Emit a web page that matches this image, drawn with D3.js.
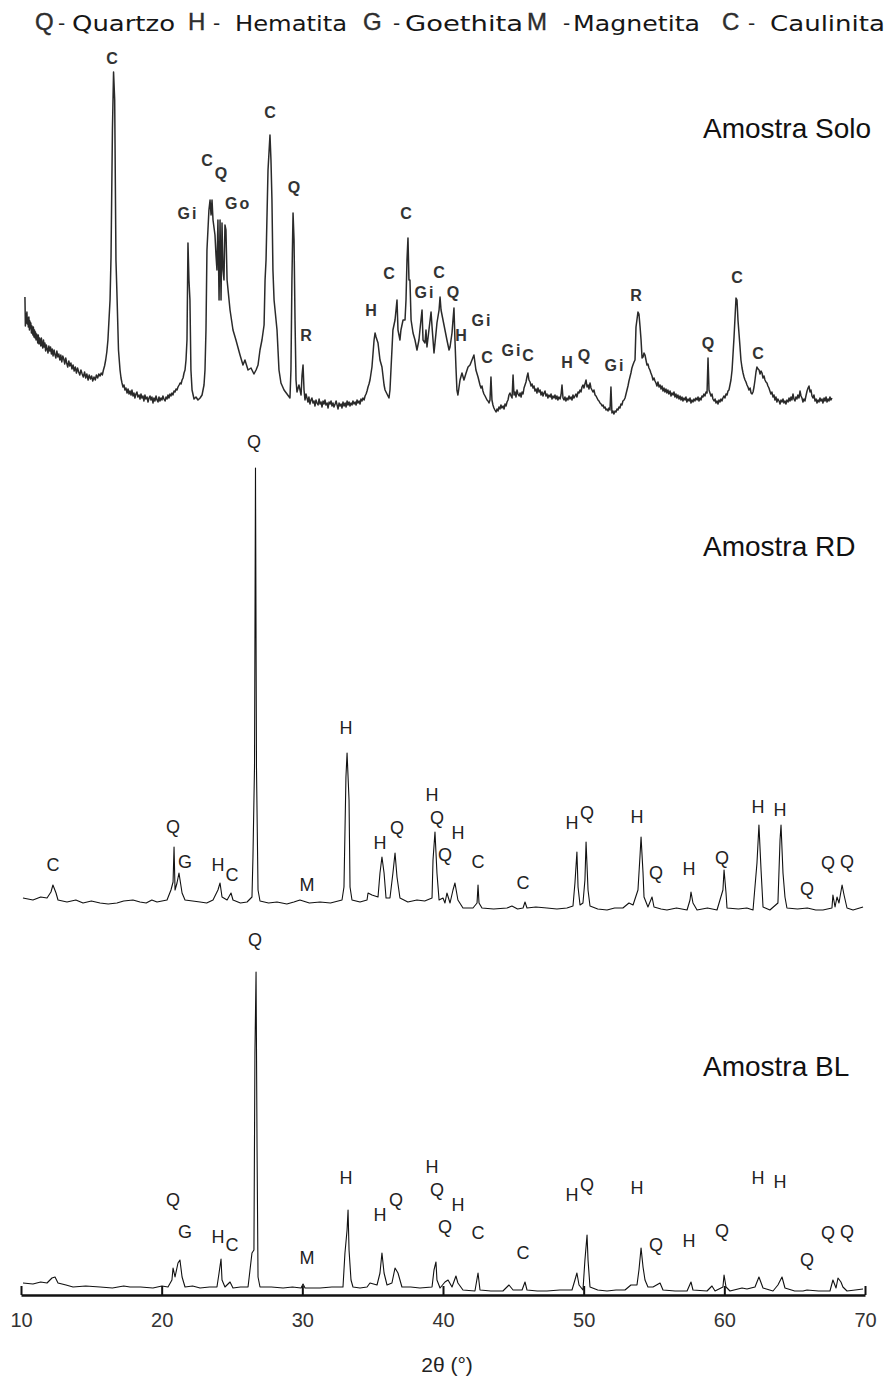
<!DOCTYPE html>
<html>
<head>
<meta charset="utf-8">
<script src="https://cdn.jsdelivr.net/npm/d3@7"></script>
<style>
  html, body { margin: 0; padding: 0; background: #fff; }
  svg { display: block; }
</style>
</head>
<body>
<svg id="chart" width="886" height="1376"></svg>
<script>
// ---- data -------------------------------------------------------------
const twoThetaTicks = [10, 20, 30, 40, 50, 60, 70];
const sampleNames = ["Amostra Solo", "Amostra RD", "Amostra BL"];
const phaseCodes = ["Q", "H", "G", "M", "C"];
const phaseNames = ["Quartzo", "Hematita", "Goethita", "Magnetita", "Caulinita"];

// diffractograms: [2θ (°), intensity (a.u.)]
const soloPattern = [
  [10.28,369],[10.31,282],[10.35,318],[10.38,291],[10.42,324],[10.45,288],[10.49,306],[10.52,279],
  [10.56,309],[10.60,270],[10.63,297],[10.67,276],[10.70,291],[10.74,261],[10.78,282],[10.81,264],
  [10.85,255],[10.88,279],[10.92,249],[10.96,270],[11.00,246],[11.03,264],[11.07,240],[11.11,258],
  [11.15,252],[11.19,231],[11.23,255],[11.28,228],[11.32,246],[11.36,237],[11.41,222],[11.45,246],
  [11.50,228],[11.55,216],[11.60,240],[11.65,219],[11.70,231],[11.75,207],[11.80,225],[11.86,213],
  [11.92,201],[11.98,222],[12.04,207],[12.10,219],[12.16,198],[12.22,213],[12.28,192],[12.35,210],
  [12.42,195],[12.48,186],[12.55,207],[12.62,189],[12.69,198],[12.76,180],[12.83,195],[12.90,174],
  [12.97,192],[13.04,183],[13.11,168],[13.18,186],[13.25,171],[13.32,159],[13.40,177],[13.47,162],
  [13.55,171],[13.62,153],[13.70,165],[13.78,147],[13.86,159],[13.94,141],[14.02,156],[14.10,144],
  [14.18,135],[14.26,150],[14.35,138],[14.43,129],[14.52,144],[14.60,126],[14.68,138],[14.77,120],
  [14.85,135],[14.94,123],[15.02,132],[15.10,117],[15.19,129],[15.28,120],[15.36,135],[15.45,126],
  [15.53,138],[15.62,132],[15.70,141],[15.78,135],[15.86,150],[15.94,162],[16.02,180],[16.10,204],
  [16.18,240],[16.33,360],[16.40,489],[16.50,870],[16.58,1044],[16.66,960],[16.75,480],[16.82,380],
  [16.93,210],[17.04,150],[17.11,126],[17.18,111],[17.25,99],[17.32,105],[17.39,90],[17.46,96],
  [17.54,81],[17.61,93],[17.68,78],[17.75,87],[17.82,75],[17.89,90],[17.96,72],[18.03,81],
  [18.10,66],[18.17,78],[18.24,84],[18.31,69],[18.39,75],[18.46,63],[18.53,78],[18.60,66],
  [18.67,72],[18.74,57],[18.81,75],[18.88,63],[18.96,69],[19.03,54],[19.10,66],[19.17,72],
  [19.24,60],[19.31,69],[19.38,51],[19.45,66],[19.52,57],[19.60,72],[19.67,60],[19.74,54],
  [19.81,69],[19.88,57],[19.95,66],[20.02,60],[20.09,72],[20.16,63],[20.24,57],[20.31,69],
  [20.38,63],[20.45,75],[20.52,66],[20.59,78],[20.66,72],[20.73,81],[20.80,75],[20.88,87],
  [20.95,84],[21.02,93],[21.09,90],[21.16,99],[21.24,105],[21.31,111],[21.38,108],[21.45,120],
  [21.52,126],[21.59,141],[21.66,150],[21.73,180],[21.80,240],[21.87,531],[21.94,420],[22.01,360],
  [22.08,150],[22.16,90],[22.30,63],[22.44,69],[22.58,60],[22.73,66],[22.87,75],[23.01,105],
  [23.08,150],[23.15,270],[23.22,510],[23.36,630],[23.44,660],[23.51,615],[23.58,660],[23.65,600],
  [23.79,555],[23.86,495],[23.93,450],[24.00,600],[24.08,360],[24.15,600],[24.22,360],[24.29,591],
  [24.36,450],[24.43,420],[24.50,585],[24.57,570],[24.65,420],[24.72,390],[24.86,330],[25.07,270],
  [25.28,240],[25.57,195],[25.78,165],[25.92,180],[26.14,150],[26.35,156],[26.56,138],[26.71,150],
  [26.85,165],[26.99,210],[27.13,240],[27.28,285],[27.35,420],[27.42,480],[27.56,750],[27.70,855],
  [27.77,780],[27.84,660],[27.91,450],[27.99,360],[28.13,300],[28.20,270],[28.34,150],[28.48,111],
  [28.70,90],[28.91,78],[29.12,66],[29.19,150],[29.26,420],[29.34,621],[29.41,540],[29.48,300],
  [29.55,120],[29.62,84],[29.76,105],[29.91,75],[29.98,135],[30.05,165],[30.12,90],[30.19,60],
  [30.26,78],[30.33,66],[30.40,54],[30.47,69],[30.54,48],[30.61,60],[30.68,66],[30.76,51],
  [30.83,57],[30.90,42],[30.97,60],[31.04,51],[31.12,45],[31.19,63],[31.26,48],[31.33,54],
  [31.40,39],[31.47,57],[31.54,48],[31.61,60],[31.68,45],[31.76,51],[31.83,36],[31.90,54],
  [31.97,48],[32.04,57],[32.11,42],[32.18,51],[32.25,39],[32.33,48],[32.40,57],[32.47,45],
  [32.54,33],[32.61,51],[32.68,42],[32.75,48],[32.82,36],[32.89,54],[32.97,42],[33.04,51],
  [33.11,39],[33.18,57],[33.25,45],[33.32,54],[33.39,42],[33.46,51],[33.53,45],[33.60,57],
  [33.68,48],[33.75,54],[33.82,45],[33.89,60],[33.96,51],[34.03,57],[34.10,48],[34.17,63],
  [34.24,57],[34.31,66],[34.39,60],[34.46,72],[34.53,78],[34.60,87],[34.67,99],[34.74,108],
  [34.81,120],[34.95,159],[35.10,240],[35.17,261],[35.24,249],[35.38,231],[35.52,180],[35.66,159],
  [35.81,105],[35.88,90],[36.02,78],[36.16,66],[36.23,90],[36.30,150],[36.44,270],[36.59,300],
  [36.66,330],[36.73,360],[36.80,270],[36.94,240],[37.01,270],[37.16,300],[37.30,300],[37.37,360],
  [37.44,480],[37.51,546],[37.58,420],[37.65,420],[37.73,300],[37.87,261],[38.01,240],[38.15,210],
  [38.29,240],[38.36,270],[38.51,330],[38.58,240],[38.72,231],[38.79,270],[38.86,219],[39.00,270],
  [39.15,324],[39.22,280],[39.36,201],[39.50,260],[39.57,291],[39.72,330],[39.79,369],[39.86,330],
  [40.00,300],[40.14,270],[40.28,240],[40.43,210],[40.50,219],[40.57,240],[40.64,261],[40.71,300],
  [40.78,336],[40.85,240],[40.92,159],[40.99,90],[41.06,75],[41.21,120],[41.35,141],[41.49,120],
  [41.64,141],[41.78,159],[41.92,165],[42.06,180],[42.20,195],[42.34,150],[42.49,129],[42.63,105],
  [42.70,96],[42.77,102],[42.84,87],[42.91,78],[42.99,72],[43.06,66],[43.13,60],[43.20,57],
  [43.27,51],[43.34,60],[43.41,129],[43.48,60],[43.55,45],[43.62,36],[43.69,30],[43.77,24],
  [43.84,33],[43.91,27],[43.98,39],[44.05,33],[44.12,45],[44.19,36],[44.27,42],[44.34,33],
  [44.41,48],[44.48,42],[44.55,54],[44.62,60],[44.69,75],[44.76,81],[44.84,72],[44.91,66],
  [44.98,135],[45.05,75],[45.12,84],[45.19,69],[45.26,90],[45.33,78],[45.41,72],[45.48,81],
  [45.55,69],[45.62,84],[45.69,78],[45.76,96],[45.83,105],[45.90,114],[45.97,129],[46.04,141],
  [46.11,120],[46.19,114],[46.26,102],[46.33,108],[46.40,96],[46.47,102],[46.54,87],[46.61,93],
  [46.68,81],[46.75,96],[46.83,84],[46.90,90],[46.97,75],[47.04,84],[47.11,72],[47.18,81],
  [47.25,87],[47.32,72],[47.39,78],[47.46,66],[47.53,75],[47.61,69],[47.68,78],[47.75,63],
  [47.82,72],[47.89,66],[47.96,75],[48.03,63],[48.10,72],[48.17,60],[48.24,69],[48.32,63],
  [48.39,75],[48.46,105],[48.53,66],[48.60,60],[48.67,69],[48.74,57],[48.81,66],[48.88,60],
  [48.96,72],[49.03,63],[49.10,69],[49.17,60],[49.24,75],[49.31,66],[49.38,72],[49.45,78],
  [49.52,69],[49.60,84],[49.67,81],[49.74,90],[49.81,84],[49.88,99],[49.95,105],[50.02,96],
  [50.09,108],[50.17,120],[50.24,99],[50.31,105],[50.38,93],[50.45,111],[50.52,96],[50.59,90],
  [50.66,84],[50.73,90],[50.81,75],[50.88,72],[50.95,66],[51.02,60],[51.09,57],[51.16,51],
  [51.24,48],[51.31,42],[51.38,45],[51.45,36],[51.52,39],[51.59,30],[51.66,33],[51.73,27],
  [51.80,36],[51.87,30],[51.94,99],[52.01,21],[52.08,27],[52.15,18],[52.23,27],[52.30,24],
  [52.37,33],[52.44,30],[52.51,39],[52.58,36],[52.65,48],[52.72,45],[52.79,57],[52.87,60],
  [52.94,66],[53.01,78],[53.08,90],[53.15,102],[53.22,117],[53.29,129],[53.36,141],[53.43,156],
  [53.50,165],[53.58,174],[53.65,180],[53.72,279],[53.86,324],[53.93,318],[54.01,279],[54.08,240],
  [54.15,186],[54.22,189],[54.29,201],[54.36,195],[54.43,180],[54.50,165],[54.57,168],[54.64,156],
  [54.71,150],[54.78,141],[54.86,132],[54.93,120],[55.00,126],[55.07,117],[55.14,111],[55.21,102],
  [55.28,114],[55.36,99],[55.43,105],[55.50,93],[55.57,102],[55.64,87],[55.71,96],[55.78,84],
  [55.85,93],[55.92,81],[55.99,90],[56.06,78],[56.14,87],[56.21,72],[56.28,81],[56.35,75],
  [56.42,84],[56.49,69],[56.56,78],[56.63,66],[56.70,75],[56.78,63],[56.85,72],[56.92,60],
  [56.99,69],[57.06,57],[57.13,66],[57.20,60],[57.27,69],[57.34,54],[57.42,63],[57.49,57],
  [57.56,66],[57.63,51],[57.70,60],[57.77,54],[57.84,63],[57.91,57],[57.98,66],[58.06,60],
  [58.13,69],[58.20,57],[58.27,66],[58.34,60],[58.41,72],[58.48,69],[58.55,78],[58.62,72],
  [58.70,84],[58.77,81],[58.84,186],[58.91,90],[58.98,81],[59.05,72],[59.12,78],[59.19,63],
  [59.27,57],[59.34,63],[59.41,51],[59.48,57],[59.55,48],[59.62,60],[59.69,54],[59.76,63],
  [59.83,57],[59.90,66],[59.97,72],[60.04,66],[60.12,78],[60.19,75],[60.26,87],[60.33,90],
  [60.40,105],[60.47,120],[60.55,150],[60.69,249],[60.83,366],[60.90,360],[60.97,300],[61.04,261],
  [61.11,222],[61.18,180],[61.26,156],[61.33,141],[61.40,129],[61.47,120],[61.54,114],[61.61,105],
  [61.68,99],[61.75,90],[61.83,96],[61.90,81],[61.97,78],[62.04,84],[62.11,99],[62.18,120],
  [62.25,144],[62.32,159],[62.40,153],[62.47,150],[62.54,138],[62.61,147],[62.68,141],[62.75,126],
  [62.82,132],[62.89,120],[62.96,114],[63.03,111],[63.10,102],[63.17,96],[63.24,87],[63.31,78],
  [63.38,84],[63.46,69],[63.53,75],[63.60,60],[63.67,69],[63.74,54],[63.81,63],[63.89,57],
  [63.96,48],[64.03,60],[64.10,54],[64.17,63],[64.24,51],[64.31,57],[64.38,48],[64.45,60],
  [64.53,54],[64.60,66],[64.67,57],[64.74,69],[64.81,60],[64.88,78],[64.95,63],[65.02,57],
  [65.09,69],[65.16,63],[65.23,75],[65.31,66],[65.38,87],[65.45,72],[65.52,66],[65.59,54],
  [65.66,63],[65.73,57],[65.80,72],[65.88,87],[65.95,96],[66.02,102],[66.09,84],[66.16,90],
  [66.23,72],[66.30,66],[66.37,75],[66.45,57],[66.52,63],[66.59,51],[66.66,60],[66.73,54],
  [66.80,66],[66.87,57],[66.94,63],[67.01,51],[67.09,66],[67.16,57],[67.23,69],[67.30,54],
  [67.37,63],[67.44,57],[67.51,69],[67.58,60],[67.65,66]
];

const rdPattern = [
  [10.14,34],[10.85,30],[11.40,36],[11.85,34],[12.13,46],[12.27,60],[12.49,44],[12.63,30],
  [13.27,26],[13.90,30],[14.41,24],[15.00,28],[15.62,24],[16.20,22],[16.82,24],[17.30,28],
  [17.96,30],[18.46,26],[18.90,24],[19.30,30],[19.67,26],[20.38,30],[20.66,50],[20.81,66],
  [20.88,136],[20.95,50],[21.09,64],[21.23,84],[21.45,44],[21.66,30],[22.20,28],[22.73,26],
  [23.20,24],[23.65,30],[24.00,50],[24.15,64],[24.29,36],[24.65,30],[24.93,44],[25.07,30],
  [25.60,24],[26.07,26],[26.42,36],[26.49,116],[26.60,296],[26.67,894],[26.74,296],[26.85,50],
  [26.99,28],[27.60,24],[28.20,26],[28.90,22],[29.40,26],[29.83,30],[30.50,24],[31.26,26],
  [32.00,24],[32.82,30],[32.96,56],[33.10,276],[33.18,324],[33.32,230],[33.39,56],[33.53,30],
  [34.10,26],[34.60,30],[34.67,44],[34.95,40],[35.38,36],[35.52,84],[35.66,116],[35.81,84],
  [35.95,34],[36.23,34],[36.44,84],[36.59,124],[36.73,76],[36.94,34],[37.50,26],[38.15,30],
  [38.70,28],[39.22,34],[39.29,110],[39.43,166],[39.57,84],[39.72,30],[40.00,34],[40.14,24],
  [40.28,44],[40.50,24],[40.71,50],[40.85,64],[41.06,30],[41.42,14],[42.13,14],[42.42,24],
  [42.49,60],[42.56,24],[42.77,14],[43.60,12],[44.55,14],[44.90,18],[45.30,12],[45.69,14],
  [45.83,26],[45.97,14],[46.60,16],[47.39,14],[48.10,12],[48.81,14],[49.24,18],[49.38,64],
  [49.52,126],[49.60,56],[49.74,20],[49.95,24],[50.09,70],[50.17,146],[50.31,50],[50.45,18],
  [51.00,12],[51.66,10],[52.20,14],[52.79,14],[53.22,24],[53.51,20],[53.86,50],[54.00,116],
  [54.08,156],[54.22,84],[54.29,36],[54.57,16],[54.86,36],[55.00,16],[55.50,12],[55.92,10],
  [56.60,14],[57.35,10],[57.56,30],[57.63,46],[57.77,24],[58.06,10],[58.80,14],[59.48,10],
  [59.90,50],[59.98,90],[60.12,44],[60.19,14],[61.00,12],[61.60,14],[62.04,10],[62.32,104],
  [62.46,180],[62.61,90],[62.75,16],[63.24,10],[63.81,24],[63.96,150],[64.03,180],[64.17,84],
  [64.31,36],[64.45,14],[65.20,12],[65.90,14],[66.50,10],[67.01,10],[67.65,14],[67.72,40],
  [67.87,16],[68.01,36],[68.15,24],[68.37,60],[68.51,40],[68.72,14],[69.15,10],[69.86,16]
];

const blPattern = [
  [10.14,36],[10.85,33],[11.40,39],[11.85,36],[12.20,51],[12.42,54],[12.63,36],[13.20,30],
  [13.70,24],[14.60,27],[15.62,24],[16.50,21],[17.30,27],[17.75,24],[18.50,24],[19.38,21],
  [20.02,27],[20.45,24],[20.73,45],[20.81,81],[20.95,54],[21.16,96],[21.30,105],[21.45,54],
  [21.66,24],[22.20,27],[22.73,21],[23.40,24],[23.93,24],[24.08,66],[24.22,108],[24.29,45],
  [24.50,24],[24.86,39],[25.07,21],[25.60,24],[26.14,24],[26.42,126],[26.56,135],[26.63,726],
  [26.71,969],[26.78,444],[26.85,54],[26.99,24],[27.80,24],[28.63,21],[29.30,24],[29.91,21],
  [30.05,33],[30.19,21],[31.26,21],[32.10,24],[32.89,24],[33.03,126],[33.18,195],[33.25,255],
  [33.32,135],[33.46,45],[33.60,24],[34.10,21],[34.60,24],[34.81,36],[35.31,30],[35.52,66],
  [35.66,126],[35.81,66],[36.02,30],[36.37,36],[36.59,81],[36.80,66],[37.08,24],[37.70,24],
  [38.36,21],[39.22,24],[39.36,75],[39.50,99],[39.57,45],[39.79,21],[40.14,39],[40.36,45],
  [40.64,24],[40.92,57],[41.06,36],[41.42,15],[42.27,12],[42.49,66],[42.63,15],[43.40,12],
  [44.26,12],[44.69,30],[44.98,15],[45.62,15],[45.83,39],[45.97,15],[46.70,12],[47.39,12],
  [48.30,15],[49.17,15],[49.38,45],[49.52,66],[49.67,30],[49.95,15],[50.09,105],[50.24,180],
  [50.31,105],[50.45,24],[51.00,15],[51.66,12],[52.30,15],[52.94,15],[53.36,30],[53.79,30],
  [53.93,75],[54.08,141],[54.22,84],[54.36,45],[54.57,24],[54.93,24],[55.43,36],[55.64,15],
  [56.50,12],[57.35,12],[57.63,39],[57.77,15],[58.77,12],[59.12,27],[59.34,12],[59.90,24],
  [59.98,60],[60.12,24],[60.40,12],[61.26,21],[61.61,18],[62.18,24],[62.46,54],[62.75,21],
  [63.46,12],[63.81,30],[64.10,54],[64.31,21],[65.00,12],[65.59,12],[65.88,15],[66.70,12],
  [67.51,12],[67.72,45],[67.94,21],[68.08,51],[68.29,39],[68.43,24],[68.72,12],[69.30,15],
  [69.86,18]
];

// phase identifications: [2θ (°), label height (a.u.), phase]
const soloPeaks = [
  [16.54,1086,"C"],[21.87,621,"Gi"],[23.29,780,"C"],[24.29,741,"Q"],[25.43,651,"Go"],
  [27.77,924,"C"],[29.48,699,"Q"],[30.33,255,"R"],[34.95,330,"H"],[36.23,441,"C"],
  [37.44,621,"C"],[38.72,384,"Gi"],[39.79,444,"C"],[40.78,384,"Q"],[41.35,255,"H"],
  [42.77,300,"Gi"],[43.20,189,"C"],[44.90,210,"Gi"],[46.11,195,"C"],[48.88,174,"H"],
  [50.09,195,"Q"],[52.23,165,"Gi"],[53.79,375,"R"],[58.91,231,"Q"],[60.97,429,"C"],
  [62.46,201,"C"]
];

const rdPeaks = [
  [26.56,946,"Q"],[12.27,100,"C"],[20.81,176,"Q"],[21.66,106,"G"],[24.00,100,"H"],
  [25.00,80,"C"],[30.33,60,"M"],[33.10,374,"H"],[35.52,144,"H"],[36.73,174,"Q"],
  [39.22,240,"H"],[39.57,194,"Q"],[40.14,120,"Q"],[41.06,164,"H"],[42.49,106,"C"],
  [45.69,64,"C"],[49.17,184,"H"],[50.24,204,"Q"],[53.79,196,"H"],[55.14,84,"Q"],
  [57.49,92,"H"],[59.83,114,"Q"],[62.39,216,"H"],[63.96,210,"H"],[65.88,52,"Q"],
  [67.37,104,"Q"],[68.72,106,"Q"]
];

const blPeaks = [
  [26.63,1065,"Q"],[20.81,285,"Q"],[21.66,189,"G"],[24.00,174,"H"],[25.00,150,"C"],
  [30.33,111,"M"],[33.10,351,"H"],[35.52,240,"H"],[36.66,285,"Q"],[39.22,384,"H"],
  [39.57,315,"Q"],[40.14,204,"Q"],[41.06,270,"H"],[42.49,186,"C"],[45.69,126,"C"],
  [49.17,300,"H"],[50.24,330,"Q"],[53.79,321,"H"],[55.14,150,"Q"],[57.49,162,"H"],
  [59.83,192,"Q"],[62.39,351,"H"],[63.96,339,"H"],[65.88,105,"Q"],[67.37,186,"Q"],
  [68.72,189,"Q"]
];

// ---- layout -----------------------------------------------------------
const W = 886, H = 1376;
const sans = "'Liberation Sans', Arial, Helvetica, sans-serif";
const legendFont = "'DejaVu Sans', Verdana, sans-serif";

const svg = d3.select("#chart");
svg.append("rect").attr("width", W).attr("height", H).attr("fill", "#fff");

const x = d3.scaleLinear().domain([10, 70]).range([21, 865]);

const panels = [
  { name: sampleNames[0], pattern: soloPattern, peaks: soloPeaks,
    y: d3.scaleLinear().domain([0, 1050]).range([420, 70]),
    titleY: 138, stroke: "#2a2a2a", width: 1.5,
    labelSize: 16, labelWeight: "bold", labelFill: "#333", labelSpacing: 2 },
  { name: sampleNames[1], pattern: rdPattern, peaks: rdPeaks,
    y: d3.scaleLinear().domain([0, 1000]).range([915, 415]),
    titleY: 556, stroke: "#111", width: 1.1,
    labelSize: 18, labelWeight: "normal", labelFill: "#222", labelSpacing: 0 },
  { name: sampleNames[2], pattern: blPattern, peaks: blPeaks,
    y: d3.scaleLinear().domain([0, 1050]).range([1295, 945]),
    titleY: 1076, stroke: "#111", width: 1.1,
    labelSize: 18, labelWeight: "normal", labelFill: "#222", labelSpacing: 0 }
];

panels.forEach(p => {
  const g = svg.append("g");
  const line = d3.line().x(d => x(d[0])).y(d => p.y(d[1]));
  g.append("path")
    .datum(p.pattern)
    .attr("d", line)
    .attr("fill", "none")
    .attr("stroke", p.stroke)
    .attr("stroke-width", p.width)
    .attr("stroke-linejoin", "round");

  g.selectAll("text.peak")
    .data(p.peaks)
    .join("text")
    .attr("class", "peak")
    .attr("x", d => x(d[0]))
    .attr("y", d => p.y(d[1]))
    .attr("text-anchor", "middle")
    .attr("dominant-baseline", "central")
    .attr("font-family", sans)
    .attr("font-size", p.labelSize)
    .attr("font-weight", p.labelWeight)
    .attr("letter-spacing", p.labelSpacing)
    .attr("fill", p.labelFill)
    .text(d => d[2]);

  g.append("text")
    .attr("x", 703)
    .attr("y", p.titleY)
    .attr("font-family", sans)
    .attr("font-size", 28)
    .attr("fill", "#111")
    .text(p.name);
});

// ---- 2θ axis ----------------------------------------------------------
const axis = svg.append("g")
  .attr("transform", "translate(0,1295)")
  .call(d3.axisBottom(x).tickValues(twoThetaTicks).tickSizeInner(-9).tickSizeOuter(0).tickPadding(18));
axis.select(".domain").attr("stroke", "#111").attr("stroke-width", 2.6);
axis.selectAll(".tick line").attr("stroke", "#111").attr("stroke-width", 2);
axis.selectAll(".tick text")
  .attr("font-family", sans)
  .attr("font-size", 20)
  .attr("fill", "#333");

svg.append("text")
  .attr("x", 447)
  .attr("y", 1372)
  .attr("text-anchor", "middle")
  .attr("font-family", sans)
  .attr("font-size", 21)
  .attr("fill", "#222")
  .text("2θ (°)");

// ---- phase legend -----------------------------------------------------
const legendCodeX = [35, 188, 363, 527, 722];
const legendDashX = [58, 213, 393, 563, 748];
const legendNameX = [72, 235, 405, 573, 770];
const legendNameW = [103, 112, 118, 127, 115];
const legend = svg.append("g");
phaseCodes.forEach((code, i) => {
  legend.append("text")
    .attr("x", legendCodeX[i]).attr("y", 30)
    .attr("font-family", sans).attr("font-size", 24)
    .attr("fill", "#2e2e2e")
    .attr("stroke", "#2e2e2e").attr("stroke-width", 0.4)
    .text(code);
  legend.append("text")
    .attr("x", legendDashX[i]).attr("y", 30)
    .attr("font-family", legendFont).attr("font-size", 20)
    .attr("fill", "#222")
    .text("-");
  legend.append("text")
    .attr("x", legendNameX[i]).attr("y", 31)
    .attr("font-family", legendFont).attr("font-size", 21)
    .attr("fill", "#161616")
    .attr("textLength", legendNameW[i])
    .attr("lengthAdjust", "spacingAndGlyphs")
    .text(phaseNames[i]);
});
</script>
</body>
</html>
